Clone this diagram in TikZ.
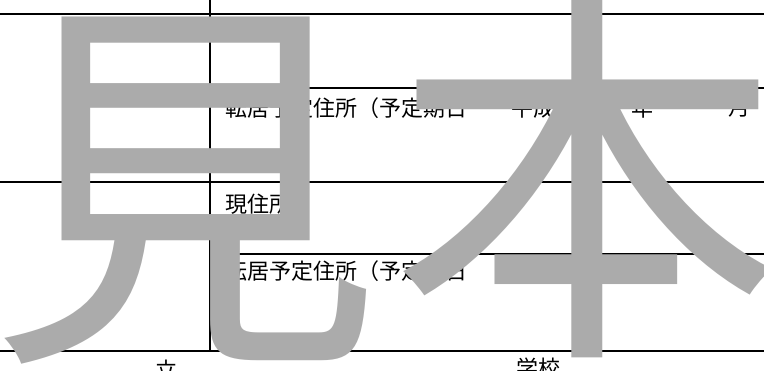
\documentclass[tikz,border=0pt]{standalone}
\usepackage{fontspec}
\newfontfamily\jpfont{Noto Sans CJK JP}
\tikzset{
  rule/.style={line width=1.8pt},
  label/.style={anchor=west, inner sep=0pt, font=\jpfont\fontsize{22}{22}\selectfont},
  stamp/.style={inner sep=0pt, text=stampgray, font=\jpfont\fontsize{392}{392}\selectfont}
}
\definecolor{stampgray}{RGB}{171,171,171}
\begin{document}
\begin{tikzpicture}[x=1pt,y=-1pt]
    \useasboundingbox (0,0) rectangle (764,370);

    % 罫線
    \draw[rule] (0,14) -- (764,14);
    \draw[rule] (210,88) -- (764,88);
    \draw[rule] (0,182) -- (764,182);
    \draw[rule] (210,254) -- (764,254);
    \draw[rule] (0,351) -- (764,351);
    \draw[rule] (210,0) -- (210,351);

    % 文字
    \node[label] (moving1) at (225,108) {転居予定住所（予定期日};
    \node[label] (era) at (511,108) {平成};
    \node[label] (year) at (631,108) {年};
    \node[label] (month) at (728,108) {月};
    \node[label] (current) at (225,204) {現住所};
    \node[label] (moving2) at (225,271) {転居予定住所（予定期日};
    \node[label] (city) at (155,370) {立};
    \node[label] (school) at (516,368) {学校};

    % 見本
    \node[stamp] (mi) at (186,191) {見};
    \node[stamp] (hon) at (587,178) {本};
\end{tikzpicture}
\end{document}
